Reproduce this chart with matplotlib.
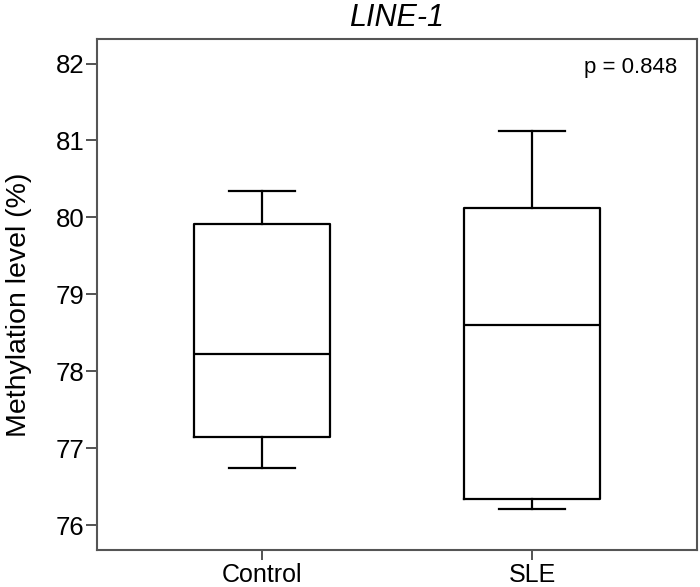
import matplotlib
matplotlib.use("Agg")
import matplotlib.pyplot as plt

plt.rcParams["font.family"] = ["Liberation Sans", "DejaVu Sans"]

# box summaries
groups = ["Control", "SLE"]
whislo = [76.74, 76.21]
q1 = [77.15, 76.34]
med = [78.22, 78.60]
q3 = [79.92, 80.12]
whishi = [80.34, 81.12]
y_ticks = [76, 77, 78, 79, 80, 81, 82]
p_text = "p = 0.848"

stats = [
    {"label": g, "whislo": lo, "q1": a, "med": m, "q3": b, "whishi": hi, "fliers": []}
    for g, lo, a, m, b, hi in zip(groups, whislo, q1, med, q3, whishi)
]

fig = plt.figure(figsize=(7, 5.87), dpi=100)
ax = fig.add_axes([0.1386, 0.063, 0.857, 0.8706])

line = dict(color="black", linewidth=1.6)
ax.bxp(stats, positions=[0, 1], widths=0.507, capwidths=0.245,
       showfliers=False, boxprops=line, whiskerprops=line,
       capprops=line, medianprops=line)

ax.set_xlim(-0.611, 1.611)
ax.set_ylim(75.675, 82.32)
ax.set_yticks(y_ticks)
ax.set_xticks([0, 1])
ax.set_xticklabels(groups, fontsize=18)
ax.tick_params(axis="y", labelsize=18.5, length=8, width=1.3, color="#444444", pad=1)
ax.tick_params(axis="x", length=7, width=1.3, color="#444444", pad=2)
for s in ax.spines.values():
    s.set_color("#555555")
    s.set_linewidth(1.5)

ax.set_ylabel("Methylation level (%)", fontsize=20.5)
ax.yaxis.set_label_coords(-0.108, 0.48)
ax.set_title("LINE-1", fontsize=22, fontstyle="italic", pad=9)
ax.text(0.968, 0.945, p_text, transform=ax.transAxes, ha="right", va="center",
        fontsize=16)

fig.savefig("out.png", dpi=100)
